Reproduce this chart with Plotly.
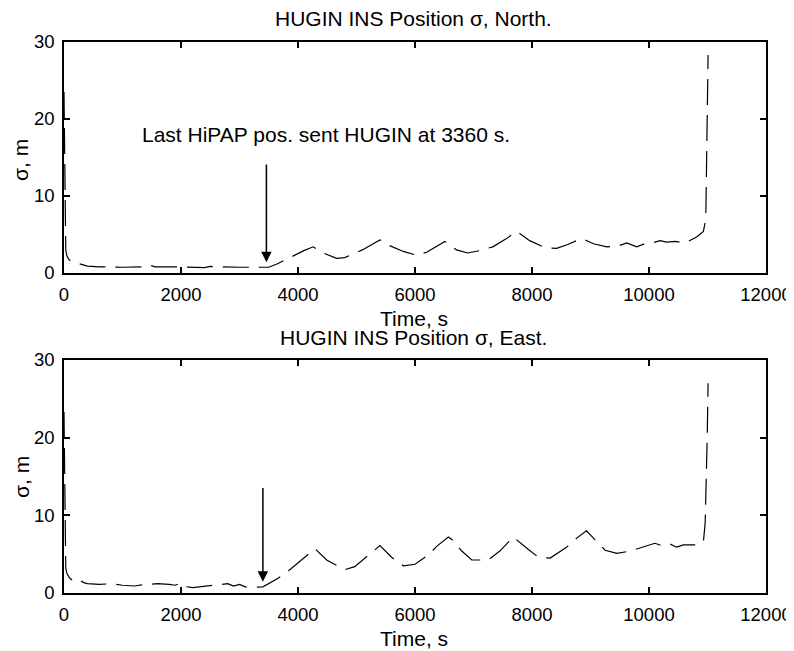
import plotly.graph_objects as go

# ---- data ----
t_north = [0, 10, 20, 30, 50, 80, 120, 200, 300, 400, 600, 1000, 1450, 1500, 1550, 2000, 2400, 2500,
           3000, 3360, 3500, 3650, 3900, 4100, 4260, 4400, 4660, 4800, 5100, 5400, 5550, 5800, 6030,
           6200, 6510, 6710, 6900, 7100, 7330, 7550, 7740, 7960, 8220, 8420, 8610, 8850, 9050, 9280,
           9470, 9620, 9790, 9960, 10100, 10190, 10300, 10450, 10620, 10820, 10930, 10970, 10980,
           10990, 11000, 11010]
sig_north = [23.5, 15, 6, 3.0, 2.2, 1.8, 1.5, 1.3, 1.1, 0.9, 0.8, 0.75, 0.8, 0.95, 0.8, 0.8, 0.7, 0.85,
             0.75, 0.7, 0.75, 1.2, 2.2, 2.9, 3.4, 2.7, 1.9, 2.0, 3.0, 4.3, 3.6, 2.8, 2.3,
             2.7, 4.1, 3.0, 2.6, 2.9, 3.4, 4.4, 5.4, 4.2, 3.3, 3.2, 3.7, 4.5, 3.8, 3.4,
             3.5, 3.9, 3.4, 3.9, 4.0, 4.2, 4.0, 4.1, 3.9, 4.7, 5.4, 7.0, 12.0,
             18.0, 23.0, 28.3]

t_east = [0, 10, 20, 30, 50, 100, 150, 200, 250, 300, 350, 400, 600, 800, 1000, 1200, 1400, 1600,
          1800, 1900, 2000, 2100, 2200, 2400, 2600, 2800, 2900, 3000, 3100, 3200, 3400, 3660, 3860,
          4290, 4490, 4800, 4970, 5140, 5400, 5600, 5800, 6000, 6230, 6370, 6570, 6630, 6800, 6970,
          7250, 7450, 7680, 7940, 8110, 8310, 8590, 8770, 8930, 9250, 9450, 9680, 9900, 10100,
          10240, 10360, 10470, 10590, 10790, 10930, 10960, 10980, 10995, 11010]
sig_east = [23.3, 15, 6, 3.2, 2.5, 1.9, 1.6, 1.7, 1.4, 1.5, 1.3, 1.2, 1.1, 1.2, 1.0, 0.9, 1.1, 1.2,
            1.1, 1.0, 1.3, 0.8, 0.7, 0.85, 1.0, 1.2, 0.9, 1.1, 0.8, 0.7, 0.8, 1.9, 3.0,
            5.7, 4.25, 3.0, 3.4, 4.5, 6.1, 4.6, 3.5, 3.7, 4.9, 6.0, 7.2, 6.9, 5.4, 4.25,
            4.25, 5.4, 7.2, 5.6, 4.6, 4.5, 5.9, 7.1, 8.0, 5.5, 5.1, 5.4, 5.9, 6.4,
            6.05, 6.3, 5.9, 6.2, 6.2, 6.6, 9.0, 14.0, 20.0, 27.0]

x_ticks = [0, 2000, 4000, 6000, 8000, 10000, 12000]
x_tick_labels = ["0", "2000", "4000", "6000", "8000", "10000", "12000"]
y_ticks = [0, 10, 20, 30]
y_tick_labels = ["0", "10", "20", "30"]
titles = ["HUGIN INS Position \u03c3, North.", "HUGIN INS Position \u03c3, East."]
x_label = "Time, s"
y_label = "\u03c3, m"
note_text = "Last HiPAP pos. sent HUGIN at 3360 s."

# the page places the figure 8px from the top-left corner of the window
OFF = 8
W, H = 794 - OFF, 651 - OFF
FONT = "Liberation Sans, Arial, sans-serif"
FS_TICK = 18.5
FS = 21

def px(v):
    return (v - OFF) / W

def py(v):
    return 1 - (v - OFF) / H

fig = go.Figure()
dash = "26px,10px"
fig.add_trace(go.Scatter(x=t_north, y=sig_north, mode="lines", xaxis="x", yaxis="y",
                         line=dict(color="black", width=1.2, dash=dash), showlegend=False))
fig.add_trace(go.Scatter(x=t_east, y=sig_east, mode="lines", xaxis="x2", yaxis="y2",
                         line=dict(color="black", width=1.2, dash=dash), showlegend=False))

axis_common = dict(showgrid=False, zeroline=False, showline=True, linecolor="black", linewidth=1.5,
                   mirror="allticks", ticks="inside", ticklen=6, tickcolor="black", tickwidth=1.5,
                   automargin=False,
                   tickfont=dict(family=FONT, size=FS_TICK, color="black"))
xax = dict(range=[0, 12000], tickvals=x_ticks, ticktext=x_tick_labels, ticklabelstandoff=4, **axis_common)
yax = dict(range=[0, 30], tickvals=y_ticks, ticktext=y_tick_labels, ticklabelstandoff=4, **axis_common)

xd = [px(64), px(766)]
fig.update_layout(
    width=W, height=H, margin=dict(l=0, r=0, t=0, b=0, autoexpand=False),
    paper_bgcolor="white", plot_bgcolor="white",
    xaxis=dict(domain=xd, anchor="y", **xax),
    yaxis=dict(domain=[py(273), py(42)], anchor="x", **yax),
    xaxis2=dict(domain=xd, anchor="y2", **xax),
    yaxis2=dict(domain=[py(593), py(360)], anchor="x2", **yax),
)

anns = []
for title, yc in zip(titles, [18, 337]):
    anns.append(dict(text=title, x=px(413), y=py(yc), xref="paper", yref="paper",
                     xanchor="center", yanchor="middle", showarrow=False,
                     font=dict(family=FONT, size=FS, color="black")))
for yc in [318, 638]:
    anns.append(dict(text=x_label, x=px(414), y=py(yc), xref="paper", yref="paper",
                     xanchor="center", yanchor="middle", showarrow=False,
                     font=dict(family=FONT, size=FS, color="black")))
for yc in [160, 477]:
    anns.append(dict(text=y_label, x=px(21), y=py(yc), xref="paper", yref="paper",
                     xanchor="center", yanchor="middle", showarrow=False, textangle=-90,
                     font=dict(family=FONT, size=FS, color="black")))
# note text
anns.append(dict(text=note_text, x=1295, y=18.0, xref="x", yref="y", xanchor="left", yanchor="middle",
                 showarrow=False, font=dict(family=FONT, size=FS, color="black")))
# arrows
anns.append(dict(text="", x=3460, y=1.4, xref="x", yref="y", ax=3460, ay=14.3, axref="x", ayref="y",
                 showarrow=True, arrowhead=2, arrowsize=1.4, arrowwidth=1.5, arrowcolor="black", standoff=0))
anns.append(dict(text="", x=3400, y=1.45, xref="x2", yref="y2", ax=3400, ay=13.7, axref="x2", ayref="y2",
                 showarrow=True, arrowhead=2, arrowsize=1.4, arrowwidth=1.5, arrowcolor="black", standoff=0))
fig.update_layout(annotations=anns)

fig.write_html("out.html")
